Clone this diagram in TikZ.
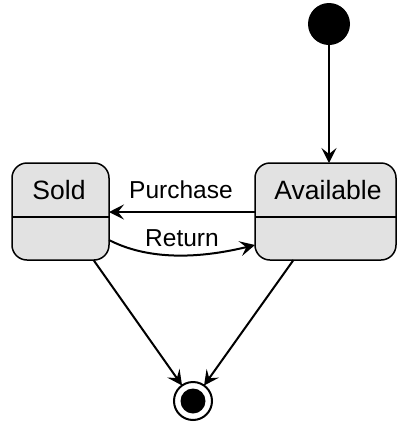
\documentclass[tikz,border=0pt]{standalone}
\usepackage{fontspec}
\setmainfont{Liberation Sans}
\usetikzlibrary{arrows.meta}
\definecolor{statefill}{HTML}{E2E2E2}
\tikzset{
  statebox/.style={draw=black, line width=1.5pt, fill=statefill, rounded corners=15pt,
    minimum width=97pt, minimum height=97pt, inner sep=0pt, outer sep=0pt},
  trans/.style={draw=black, line width=2pt, -{Stealth[length=15pt,width=15pt,inset=6pt]}},
  statelabel/.style={font=\fontsize{26.5}{28}\selectfont},
  translabel/.style={font=\fontsize{24.5}{26}\selectfont, inner sep=1pt}
}
\begin{document}
\begin{tikzpicture}[x=1pt, y=-1pt]
  \useasboundingbox (0,0) rectangle (397,424);

  % initial and final pseudo-states
  \node[circle, fill=black, minimum size=42pt, inner sep=0pt, outer sep=0pt] (init) at (329,24) {};
  \node[circle, draw=black, line width=2pt, fill=white, minimum size=38pt, inner sep=0pt, outer sep=0pt] (final) at (193,401) {};
  \node[circle, fill=black, minimum size=25pt, inner sep=0pt] (finaldot) at (final) {};

  % states
  \node[statebox] (sold) at (60.5,211.5) {};
  \node[statebox, minimum width=141pt] (avail) at (325.5,211.5) {};
  \draw[line width=1.2pt] (sold.west |- 0,217) -- (sold.east |- 0,217);
  \draw[line width=1.2pt] (avail.west |- 0,217) -- (avail.east |- 0,217);
  \node[statelabel] (soldname) at (59,190) {Sold};
  \node[statelabel] (availname) at (328,190) {Available};

  % transitions
  \draw[trans] (init) -- (init |- avail.north);
  \draw[trans] (avail.west |- 0,212) -- (sold.east |- 0,212);
  \node[translabel] (purchaselbl) at (181,190) {Purchase};
  \coordinate (retstart) at (sold.east |- 0,240);
  \coordinate (retend) at (avail.west |- 0,245);
  \draw[trans] (retstart) .. controls (140,256) and (185,262) .. (retend);
  \node[translabel] (returnlbl) at (182,238) {Return};
  \coordinate (soldout) at ([xshift=33pt]sold.south);
  \coordinate (availout) at ([xshift=-32pt]avail.south);
  \draw[trans] (soldout) -- (final);
  \draw[trans] (availout) -- (final);
\end{tikzpicture}
\end{document}
